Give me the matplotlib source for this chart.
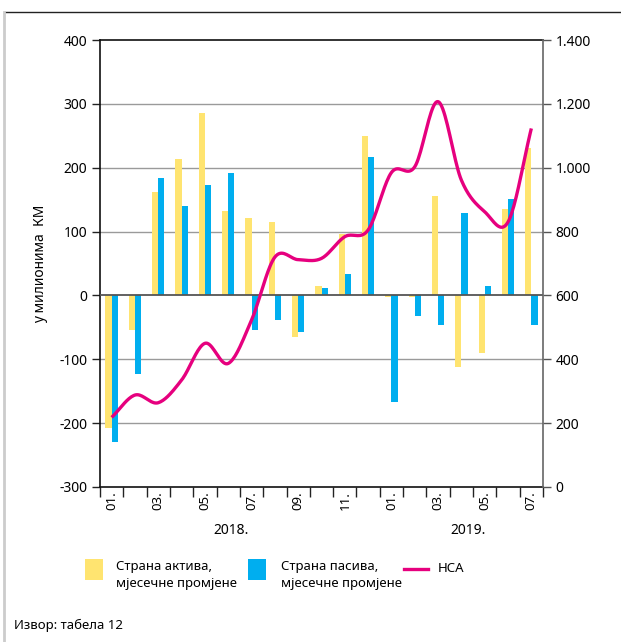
import numpy as np
import matplotlib
matplotlib.use("Agg")
import matplotlib.pyplot as plt
from matplotlib.patches import Rectangle
from matplotlib.lines import Line2D
from matplotlib.ticker import FuncFormatter

plt.rcParams['font.family'] = ['Noto Sans', 'DejaVu Sans']

months = ["01.", "02.", "03.", "04.", "05.", "06.", "07.", "08.", "09.", "10.", "11.", "12.",
          "01.", "02.", "03.", "04.", "05.", "06.", "07."]
years = ["2018.", "2019."]
foreign_assets = [-207, -54, 162, 213, 286, 132, 121, 115, -65, 15, 96, 250,
                  -2, -2, 155, -112, -90, 136, 231]
foreign_liab = [-229, -123, 184, 140, 173, 191, -54, -39, -57, 12, 34, 217,
                -167, -32, -46, 129, 15, 151, -46]
nfa = [218, 288, 264, 335, 450, 387, 523, 720, 712, 716, 784, 805,
       985, 1003, 1207, 961, 862, 830, 1123]

YELLOW = "#FFE470"
BLUE = "#00AEEF"
MAGENTA = "#E6007E"

W, H = 621, 642
fig = plt.figure(figsize=(W / 100, H / 100), dpi=100)

def fx(px):
    return px / W

def fy(py):
    return 1 - py / H

ax = fig.add_axes([fx(100), fy(487), fx(543) - fx(100), fy(40) - fy(487)])
ax2 = ax.twinx()

x = np.arange(len(months))
bw = 0.265
ax.bar(x - bw / 2, foreign_assets, width=bw, color=YELLOW, zorder=3)
ax.bar(x + bw / 2, foreign_liab, width=bw, color=BLUE, zorder=3)

ax.set_xlim(-0.5, len(months) - 0.5)
ax.set_ylim(-300, 400)
ax.set_yticks(np.arange(-300, 401, 100))
ax.yaxis.set_major_formatter(FuncFormatter(lambda v, p: f"{int(v)}"))
for v in [-200, -100, 100, 200, 300]:
    ax.axhline(v, color="#9a9a9a", lw=1.0, zorder=1)
ax.axhline(0, color="#555555", lw=1.3, zorder=4)

# x ticks: boundaries as minor ticks, labels every other month
ax.set_xticks(np.arange(-0.5, len(months), 1.0), minor=True)
ax.set_xticks(x[::2])
ax.set_xticklabels([months[i] for i in x[::2]], rotation=90)
ax.tick_params(axis='x', which='major', length=0, pad=3, labelsize=9.5)
ax.tick_params(axis='x', which='minor', length=7, width=1.0, direction='out', color='#222222')
ax.tick_params(axis='y', which='major', length=6, width=1.0, labelsize=10, pad=3, color='#222222')

for s in ['left', 'bottom', 'top']:
    ax.spines[s].set_color('#111111')
    ax.spines[s].set_linewidth(1.2)
ax.spines['right'].set_visible(False)

ax.set_ylabel("у милионима  КМ", fontsize=10, labelpad=8)

# year labels
ax.text(5.1, -0.098, years[0], transform=ax.get_xaxis_transform(), ha='center', va='center', fontsize=10)
ax.text(15.3, -0.098, years[1], transform=ax.get_xaxis_transform(), ha='center', va='center', fontsize=10)

# smooth NSA line (Catmull-Rom through monthly values)
def catmull_rom(xs, ys, n=20):
    xs = np.asarray(xs, float)
    ys = np.asarray(ys, float)
    px = np.concatenate([[2 * xs[0] - xs[1]], xs, [2 * xs[-1] - xs[-2]]])
    py = np.concatenate([[2 * ys[0] - ys[1]], ys, [2 * ys[-1] - ys[-2]]])
    ox, oy = [], []
    for i in range(1, len(px) - 2):
        t = np.linspace(0, 1, n, endpoint=False)
        for arr, out in ((px, ox), (py, oy)):
            p0, p1, p2, p3 = arr[i - 1], arr[i], arr[i + 1], arr[i + 2]
            out.extend(0.5 * ((2 * p1) + (-p0 + p2) * t + (2 * p0 - 5 * p1 + 4 * p2 - p3) * t ** 2
                              + (-p0 + 3 * p1 - 3 * p2 + p3) * t ** 3))
    ox.append(xs[-1]); oy.append(ys[-1])
    return np.array(ox), np.array(oy)

sx, sy = catmull_rom(x, nfa)
ax2.plot(sx, sy, color=MAGENTA, lw=2.4, solid_capstyle='butt', zorder=5)
ax2.set_ylim(0, 1400)
ax2.set_yticks(np.arange(0, 1401, 200))
ax2.yaxis.set_major_formatter(FuncFormatter(lambda v, p: f"{int(v):,}".replace(",", ".")))
ax2.tick_params(axis='y', length=6, width=1.0, labelsize=10, pad=3, color='#555555')
for s in ['left', 'bottom', 'top']:
    ax2.spines[s].set_visible(False)
ax2.spines['right'].set_color('#666666')
ax2.spines['right'].set_linewidth(1.2)

# frame lines of the page
fig.add_artist(Line2D([fx(5), 1], [fy(12), fy(12)], color='#222222', lw=1.0))
fig.add_artist(Line2D([fx(4), fx(4)], [fy(12), 0], color='#cccccc', lw=2.0))

# legend
fs = 9.5
fig.add_artist(Rectangle((fx(85), fy(580)), fx(18), fy(559) - fy(580), color=YELLOW, lw=0))
fig.text(fx(116), fy(560), "Страна актива,\nмјесечне промјене", fontsize=fs, va='top', ha='left', linespacing=1.45)
fig.add_artist(Rectangle((fx(248), fy(580)), fx(18), fy(559) - fy(580), color=BLUE, lw=0))
fig.text(fx(281), fy(560), "Страна пасива,\nмјесечне промјене", fontsize=fs, va='top', ha='left', linespacing=1.45)
fig.add_artist(Line2D([fx(404), fx(428)], [fy(569), fy(569)], color=MAGENTA, lw=2.4))
fig.text(fx(438), fy(568), "НСА", fontsize=fs, va='center', ha='left')

fig.text(fx(14), fy(625), "Извор: табела 12", fontsize=fs, va='center', ha='left')

fig.savefig("out.png", dpi=100)
